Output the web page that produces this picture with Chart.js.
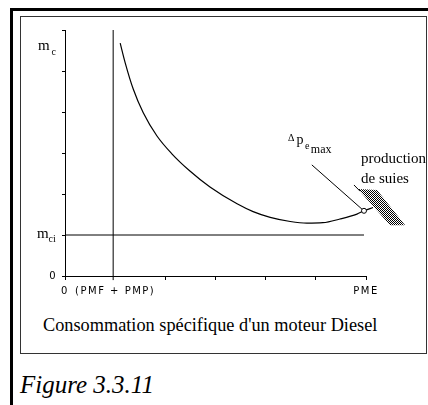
<!DOCTYPE html>
<html>
<head>
<meta charset="utf-8">
<script src="https://cdn.jsdelivr.net/npm/chart.js@4.4.1/dist/chart.umd.min.js"></script>
<style>
  html, body { margin: 0; padding: 0; background: #fff; overflow: hidden; }
  body { width: 428px; height: 405px; position: relative; }
  .outer { position: absolute; left: 10px; top: 8px; width: 600px; height: 600px;
           border-left: 3px solid #000; border-top: 3px solid #000; }
  .inner { position: absolute; left: 20px; top: 16px; width: 405px; height: 336px;
           border: 1px solid #333; }
  .caption { position: absolute; left: 43px; top: 316px; font: 18.3px/18px "Liberation Serif", "Times New Roman", serif;
             color: #000; white-space: nowrap; }
  .figure { position: absolute; left: 20px; top: 372px; font: italic 25px/25px "Liberation Serif", "Times New Roman", serif;
            color: #000; white-space: nowrap; }
  canvas { position: absolute; left: 0; top: 0; }
</style>
</head>
<body>
<div class="outer"></div>
<div class="inner"></div>
<div class="caption">Consommation spécifique d'un moteur Diesel</div>
<div class="figure">Figure 3.3.11</div>
<canvas id="chart" width="428" height="405"></canvas>
<script>
// --- Data ---
// consumption curve m_c(PME)
const curveX = [1.10, 1.20, 1.36, 1.56, 1.83, 2.13, 2.49, 2.89, 3.43, 3.75, 4.09, 4.49, 4.82, 5.14, 5.48, 5.82, 5.96, 6.14];
const curveY = [5.68, 5.20, 4.56, 3.98, 3.42, 2.98, 2.56, 2.17, 1.76, 1.57, 1.43, 1.33, 1.29, 1.30, 1.39, 1.51, 1.59, 1.67];

// horizontal m_ci line, vertical (PMF + PMP) line
const mciX = [0, 5.96];
const mciY = [1, 1];
const pmfX = [0.96, 0.96];
const pmfY = [-0.1, 6];

// delta p_e max pointer line and end point
const deltaX = [4.92, 5.92];
const deltaY = [2.71, 1.63];
const endX = [5.96];
const endY = [1.59];

// soot production zone
const hatchX = [5.84, 6.22, 6.78, 6.48];
const hatchY = [2.12, 2.10, 1.24, 1.24];
const markX = [5.76, 5.88];
const markY = [2.22, 2.07];

// tick labels
const xTickValues = [0, 1, 6];
const xTickLabels = ['0', '(PMF + PMP)', 'PME'];
const yTickValues = [0];
const yTickLabels = ['0'];

// --- Text annotations (anchor in axis units) ---
const textLabels = [
    { x: -0.54, y: 5.51, parts: [{ t: 'm', s: 15, d: 0, g: 2 }, { t: 'c', s: 10, d: 5 }] },
    { x: -0.56, y: 0.93, parts: [{ t: 'm', s: 15, d: 0, g: 0 }, { t: 'ci', s: 10, d: 4 }] },
    { x: 4.445, y: 3.29, parts: [{ t: '\u0394', s: 10, d: 0, g: 2 }, { t: 'p', s: 14, d: 3, g: 1.5 },
                                 { t: 'e', s: 10, d: 8, g: 1.5 }, { t: 'max', s: 12, d: 12 }] },
    { x: 5.90, y: 2.756, parts: [{ t: 'production', s: 15, d: 0 }] },
    { x: 5.90, y: 2.268, parts: [{ t: 'de suies', s: 15, d: 0 }] }
];

const SERIF = '"Liberation Serif", "Times New Roman", serif';
const SANS = '"DejaVu Sans", sans-serif';

const pts = (xs, ys) => xs.map((x, i) => ({ x, y: ys[i] }));

function makeHatch() {
    const c = document.createElement('canvas');
    c.width = 2; c.height = 2;
    const g = c.getContext('2d');
    g.fillStyle = '#fff';
    g.fillRect(0, 0, 2, 2);
    g.fillStyle = '#000';
    g.fillRect(0, 0, 1, 1);
    g.fillRect(1, 1, 1, 1);
    return g.createPattern(c, 'repeat');
}

// bitmap-like spacing for the tick labels, hatched zone under the lines
const spacingPlugin = {
    id: 'spacing',
    beforeDraw(chart) { chart.ctx.letterSpacing = '1.5px'; },
    beforeDatasetsDraw(chart) {
        chart.ctx.letterSpacing = '0px';
        const { ctx, scales: { x, y } } = chart;
        ctx.save();
        ctx.fillStyle = makeHatch();
        ctx.beginPath();
        hatchX.forEach((v, i) => {
            const px = x.getPixelForValue(v), py = y.getPixelForValue(hatchY[i]);
            if (i === 0) ctx.moveTo(px, py); else ctx.lineTo(px, py);
        });
        ctx.closePath();
        ctx.fill();
        ctx.restore();
    }
};

const labelPlugin = {
    id: 'labels',
    afterDraw(chart) {
        const { ctx, scales: { x, y } } = chart;
        ctx.save();
        ctx.letterSpacing = '0px';
        ctx.fillStyle = '#000';
        ctx.textAlign = 'left';
        ctx.textBaseline = 'alphabetic';
        textLabels.forEach(l => {
            let px = x.getPixelForValue(l.x);
            const py = y.getPixelForValue(l.y);
            l.parts.forEach(p => {
                ctx.font = p.s + 'px ' + SERIF;
                ctx.fillText(p.t, px, py + p.d);
                px += ctx.measureText(p.t).width + (p.g || 0);
            });
        });
        ctx.restore();
    }
};

const lineDs = (data, extra) => Object.assign({
    data, borderColor: '#000', borderWidth: 1, pointRadius: 0, tension: 0, clip: false, fill: false
}, extra || {});

new Chart(document.getElementById('chart'), {
    type: 'line',
    data: {
        datasets: [
            lineDs(pts(endX, endY), { showLine: false, pointRadius: 2.5, pointBackgroundColor: '#fff',
                                      pointBorderColor: '#000', pointBorderWidth: 1 }),
            lineDs(pts(curveX, curveY), { borderWidth: 1.2, cubicInterpolationMode: 'monotone' }),
            lineDs(pts(deltaX, deltaY)),
            lineDs(pts(markX, markY)),
            lineDs(pts(mciX, mciY)),
            lineDs(pts(pmfX, pmfY))
        ]
    },
    options: {
        responsive: false,
        animation: false,
        events: [],
        layout: { padding: { left: 35, top: 30, right: 62, bottom: 99 } },
        plugins: { legend: { display: false }, tooltip: { enabled: false } },
        scales: {
            x: {
                type: 'linear', min: 0, max: 6,
                afterFit: s => { s.height = 30; },
                border: { display: true, color: '#000', width: 1 },
                grid: {
                    drawOnChartArea: false, drawTicks: true, tickLength: 4,
                    tickColor: c => (c.tick && c.tick.value === 1) ? 'rgba(0,0,0,0)' : '#000'
                },
                ticks: {
                    stepSize: 1, autoSkip: false, maxRotation: 0, padding: 5, color: '#000',
                    font: { family: SANS, size: 10 },
                    callback: v => { const i = xTickValues.indexOf(v); return i >= 0 ? xTickLabels[i] : ''; }
                }
            },
            y: {
                type: 'linear', min: 0, max: 6,
                afterFit: s => { s.width = 30; },
                border: { display: true, color: '#000', width: 1 },
                grid: { drawOnChartArea: false, drawTicks: true, tickLength: 3, tickColor: '#000' },
                ticks: {
                    stepSize: 1, autoSkip: false, padding: 5, color: '#000',
                    font: { family: SANS, size: 10 },
                    callback: v => { const i = yTickValues.indexOf(v); return i >= 0 ? yTickLabels[i] : ''; }
                }
            }
        }
    },
    plugins: [spacingPlugin, labelPlugin]
});
</script>
</body>
</html>
